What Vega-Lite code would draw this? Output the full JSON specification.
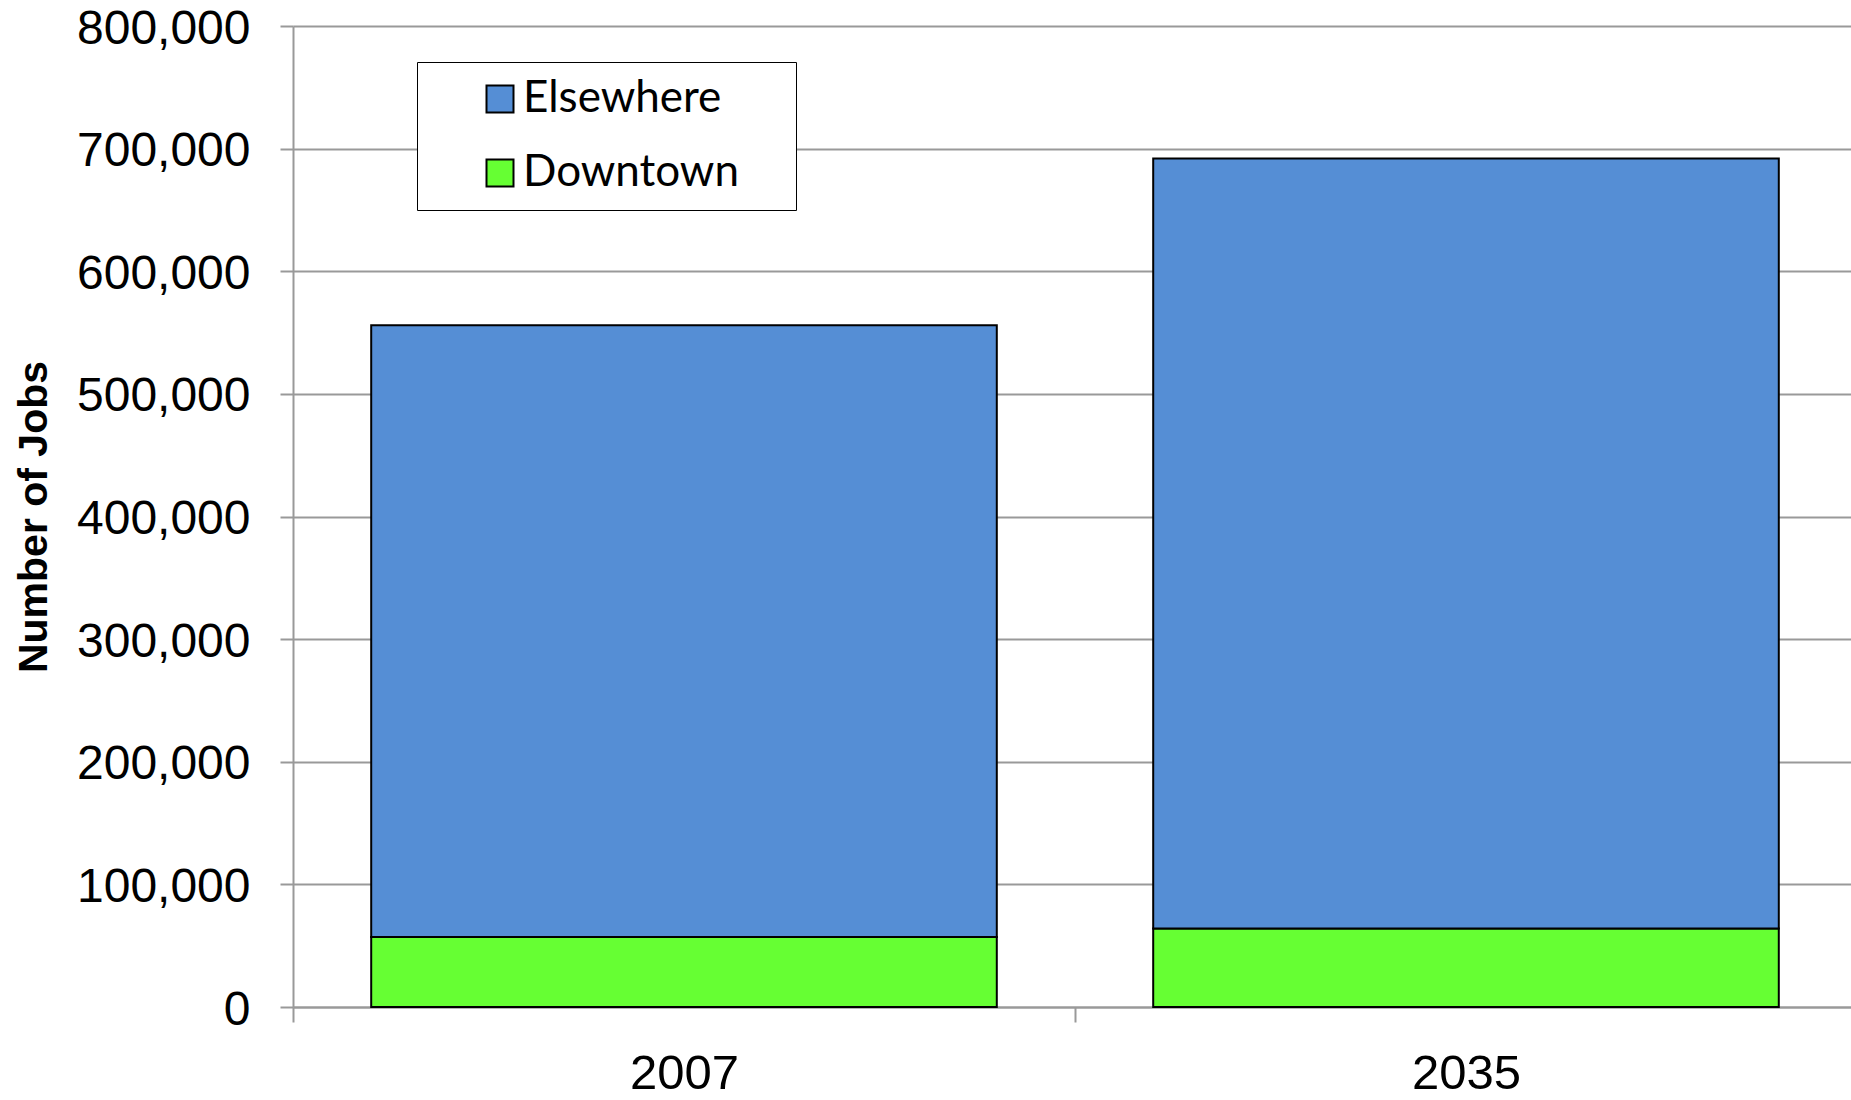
{
  "$schema": "https://vega.github.io/schema/vega-lite/v6.json",
  "autosize": {"type": "none"},
  "width": 1564,
  "height": 981,
  "padding": {"left": 293, "top": 26, "right": 0, "bottom": 93},
  "background": "white",
  "config": {
    "view": {"stroke": null},
    "font": "Liberation Sans"
  },
  "data": {
    "values": [
      {"year": "2007", "location": "Downtown", "jobs": 57000},
      {"year": "2007", "location": "Elsewhere", "jobs": 499000},
      {"year": "2035", "location": "Downtown", "jobs": 64000},
      {"year": "2035", "location": "Elsewhere", "jobs": 628000}
    ]
  },
  "mark": {"type": "bar", "stroke": "black", "strokeWidth": 2, "width": {"band": 0.8}},
  "encoding": {
    "x": {
      "field": "year",
      "type": "nominal",
      "scale": {"paddingInner": 0, "paddingOuter": 0},
      "axis": {
        "title": null,
        "labelAngle": 0,
        "labelFont": "Liberation Sans",
        "labelFontSize": 49,
        "labelColor": "black",
        "labelPadding": 27,
        "tickBand": "extent",
        "tickSize": 15,
        "tickColor": "#999999",
        "tickWidth": 2,
        "domainColor": "#999999",
        "domainWidth": 2,
        "grid": false
      }
    },
    "y": {
      "field": "jobs",
      "type": "quantitative",
      "stack": "zero",
      "scale": {"domain": [0, 800000], "nice": false},
      "axis": {
        "title": "Number of Jobs",
        "titleFont": "Liberation Sans",
        "titleFontSize": 41,
        "titleFontWeight": "bold",
        "titleColor": "black",
        "titlePadding": 38,
        "values": [0, 100000, 200000, 300000, 400000, 500000, 600000, 700000, 800000],
        "format": ",.0f",
        "labelFont": "Liberation Sans",
        "labelFontSize": 48,
        "labelColor": "black",
        "labelPadding": 30,
        "labelOffset": 3,
        "tickSize": 13,
        "tickColor": "#999999",
        "tickWidth": 2,
        "domainColor": "#999999",
        "domainWidth": 2,
        "grid": true,
        "gridColor": "#999999",
        "gridWidth": 2
      }
    },
    "color": {
      "field": "location",
      "type": "nominal",
      "scale": {"domain": ["Elsewhere", "Downtown"], "range": ["#558ED5", "#66FF33"]},
      "legend": {
        "title": " ",
        "titleOrient": "right",
        "titleFontSize": 8,
        "titlePadding": 42,
        "orient": "none",
        "legendX": 124,
        "legendY": 36,
        "fillColor": "white",
        "strokeColor": "black",
        "padding": 15,
        "symbolOffset": 46,
        "symbolType": "square",
        "symbolSize": 729,
        "symbolStrokeColor": "black",
        "symbolStrokeWidth": 2,
        "symbolOpacity": 1,
        "labelFont": "Lato",
        "labelFontSize": 44,
        "labelColor": "black",
        "labelOffset": 1,
        "labelLimit": 500,
        "rowPadding": 30
      }
    },
    "order": {"field": "location", "sort": "ascending"}
  }
}
